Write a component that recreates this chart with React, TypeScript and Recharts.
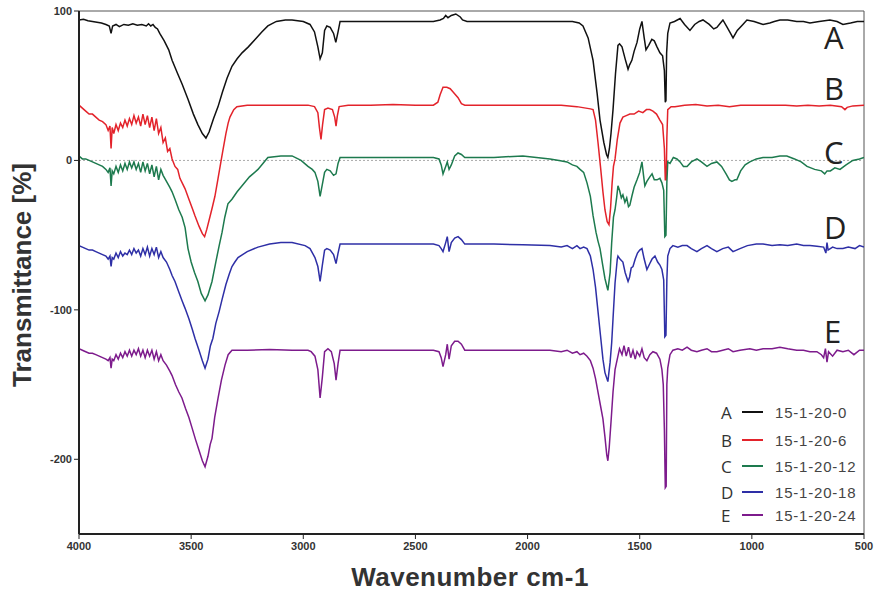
import { LineChart, Line, XAxis, YAxis, ReferenceLine } from 'recharts';

// [wavenumber cm-1, transmittance %] (offset stacked)
const seriesA: [number, number][] = [
  [4000, 94], [3980, 94.5], [3960, 93.5], [3940, 93], [3920, 92.5], [3900, 92], [3880, 91], [3865, 90], [3857, 85], [3850, 90],
  [3835, 91], [3820, 89.5], [3800, 91], [3780, 90.5], [3760, 91.5], [3740, 90.5], [3720, 91], [3700, 90], [3690, 91.5], [3680, 90],
  [3670, 91], [3660, 89], [3650, 88], [3640, 85], [3620, 80], [3600, 74], [3585, 67], [3560, 58], [3540, 51], [3514, 41],
  [3490, 31], [3470, 24], [3450, 18], [3434, 15], [3420, 19], [3400, 28], [3380, 36], [3360, 46], [3340, 55], [3318, 63],
  [3295, 68], [3273, 72], [3245, 76], [3215, 81], [3185, 86], [3158, 90], [3120, 93], [3080, 94], [3050, 94], [3000, 93],
  [2970, 91], [2950, 86], [2935, 76], [2925, 68], [2915, 72], [2905, 87], [2895, 90], [2880, 89], [2865, 85], [2855, 79],
  [2845, 86], [2836, 93], [2800, 93], [2600, 93], [2420, 93], [2390, 94], [2375, 95], [2365, 97], [2355, 95.5], [2340, 97],
  [2320, 98], [2300, 96], [2290, 94], [2270, 93], [2100, 93], [1900, 93], [1800, 93], [1770, 92], [1753, 90], [1730, 82],
  [1708, 67], [1690, 45], [1677, 27], [1660, 12], [1648, 4], [1642, 2], [1635, 8], [1628, 18], [1619, 34], [1608, 58],
  [1597, 77], [1590, 78], [1579, 76], [1565, 68], [1552, 61], [1545, 64], [1535, 67], [1525, 73], [1512, 79], [1500, 88],
  [1490, 93], [1480, 82], [1472, 74], [1460, 77], [1446, 81], [1435, 80], [1423, 76], [1410, 72], [1398, 70], [1390, 60],
  [1386, 39], [1383, 40], [1380, 72], [1375, 85], [1365, 92], [1345, 93], [1320, 95], [1300, 91], [1276, 87], [1255, 91],
  [1235, 93], [1218, 94], [1190, 91], [1170, 88], [1156, 89], [1140, 92], [1129, 94], [1110, 89], [1095, 85], [1084, 82],
  [1065, 87], [1040, 91], [1022, 94], [990, 93], [970, 92], [950, 91], [920, 92], [900, 93], [875, 94], [840, 94],
  [800, 93], [770, 93], [741, 92], [700, 93], [652, 94], [620, 93], [594, 91], [560, 92], [530, 93], [500, 93],
];

const seriesB: [number, number][] = [
  [4000, 37], [3985, 35], [3970, 33], [3955, 31], [3940, 31], [3925, 29], [3910, 27], [3895, 26], [3880, 24], [3870, 20],
  [3862, 23], [3857, 8], [3852, 22], [3845, 18], [3835, 24], [3825, 20], [3815, 25], [3805, 22], [3795, 27], [3785, 23],
  [3775, 28], [3765, 24], [3755, 30], [3745, 25], [3735, 29], [3725, 23], [3715, 31], [3705, 24], [3695, 30], [3685, 22],
  [3675, 29], [3665, 20], [3655, 28], [3645, 18], [3635, 22], [3625, 12], [3615, 15], [3605, 6], [3595, 8], [3585, 1],
  [3572, -4], [3560, -6], [3550, -12], [3540, -15], [3527, -19], [3510, -26], [3495, -32], [3483, -37], [3465, -44], [3450, -49],
  [3440, -51], [3430, -46], [3415, -37], [3405, -31], [3394, -24], [3380, -12], [3365, 1], [3358, 7], [3345, 18], [3335, 25],
  [3327, 29], [3310, 34], [3296, 36], [3250, 37], [3150, 37], [3050, 37], [2979, 37], [2950, 36], [2935, 32], [2928, 22],
  [2921, 14], [2914, 24], [2905, 34], [2890, 35], [2870, 34], [2860, 29], [2854, 23], [2848, 30], [2840, 36], [2800, 37],
  [2700, 37], [2600, 37.5], [2500, 37], [2420, 37], [2400, 39], [2390, 44], [2377, 49], [2360, 49], [2345, 48], [2333, 46],
  [2310, 42], [2295, 38], [2280, 37], [2200, 37], [2000, 37], [1850, 37], [1780, 36], [1740, 35], [1720, 34.5], [1708, 34],
  [1697, 27], [1686, 12], [1675, -4], [1664, -21], [1655, -33], [1645, -41], [1637, -43], [1630, -32], [1623, -15], [1617, -4],
  [1610, 1], [1600, 14], [1588, 25], [1575, 29], [1560, 30], [1544, 31], [1525, 31], [1505, 33], [1486, 32], [1470, 34],
  [1455, 34], [1441, 33], [1425, 31], [1410, 27], [1398, 24], [1390, 8], [1386, -13], [1382, -13], [1379, 15], [1375, 34],
  [1360, 36], [1343, 36], [1300, 37], [1250, 37.5], [1200, 36.5], [1150, 37], [1100, 36], [1050, 37], [1000, 37], [950, 37],
  [900, 37], [850, 37], [800, 36.5], [750, 37], [700, 36.5], [650, 37], [600, 36], [585, 34], [575, 35.5], [550, 36.5],
  [500, 37],
];

const seriesC: [number, number][] = [
  [4000, 3], [3985, 1], [3970, 1], [3955, 0], [3940, -1], [3925, -2], [3910, -3], [3895, -4], [3880, -6], [3870, -8],
  [3862, -5], [3857, -17], [3852, -7], [3845, -9], [3835, -4], [3825, -8], [3815, -3], [3805, -7], [3795, -2], [3785, -6],
  [3775, -1], [3765, -5], [3755, -1], [3745, -6], [3735, -2], [3725, -8], [3715, -1], [3705, -7], [3695, -2], [3685, -9],
  [3675, -3], [3665, -11], [3655, -4], [3645, -13], [3635, -6], [3625, -10], [3610, -14], [3595, -18], [3585, -21], [3572, -26],
  [3555, -33], [3540, -38], [3527, -45], [3514, -59], [3500, -68], [3485, -75], [3470, -81], [3455, -89], [3438, -94], [3425, -90],
  [3407, -81], [3390, -68], [3375, -57], [3362, -48], [3350, -38], [3336, -29], [3318, -26], [3295, -21], [3273, -17], [3240, -11],
  [3202, -6], [3180, -2], [3158, 2], [3100, 3], [3050, 3], [3010, 0], [2979, -4], [2960, -6], [2948, -8], [2935, -14],
  [2925, -24], [2915, -16], [2905, -8], [2895, -6], [2880, -7], [2865, -10], [2854, -9], [2845, -2], [2836, 2], [2800, 2],
  [2700, 2], [2600, 2], [2500, 2], [2420, 2], [2395, 1], [2385, -3], [2377, -9], [2365, -4], [2358, -1], [2350, -6],
  [2340, -3], [2325, 3], [2310, 5], [2295, 4], [2280, 2], [2257, 2], [2150, 2], [2021, 3], [1900, 1], [1860, 0],
  [1824, -1], [1800, -3], [1780, -4], [1766, -6], [1750, -8], [1735, -15], [1720, -24], [1708, -37], [1695, -48], [1686, -54],
  [1677, -59], [1665, -70], [1655, -79], [1642, -87], [1632, -75], [1625, -55], [1617, -38], [1610, -33], [1603, -25], [1597, -17],
  [1590, -20], [1582, -25], [1575, -23], [1566, -28], [1558, -25], [1550, -31], [1544, -30], [1535, -24], [1525, -18], [1512, -13],
  [1500, -8], [1490, -1], [1483, -10], [1477, -17], [1468, -14], [1455, -11], [1445, -9], [1435, -13], [1423, -13], [1410, -12],
  [1401, -15], [1393, -20], [1388, -51], [1383, -50], [1379, -15], [1375, -1], [1365, -2], [1350, 2], [1334, 1], [1320, -1],
  [1305, -4], [1289, -4], [1270, -1], [1245, 1], [1225, -1], [1200, -4], [1180, -2], [1156, -1], [1135, -4], [1115, -9],
  [1100, -13], [1089, -14], [1075, -13], [1067, -13], [1050, -7], [1030, -3], [1009, -1], [980, 1], [950, 2], [910, 2],
  [875, 3], [844, 3], [810, 1], [780, -1], [754, -4], [720, -6], [690, -7], [675, -9], [665, -7], [650, -7],
  [630, -5], [607, -6], [580, -3], [550, 0], [520, 1], [500, 2],
];

const seriesD: [number, number][] = [
  [4000, -57], [3985, -58], [3970, -59], [3955, -60], [3940, -60], [3925, -61], [3910, -62], [3895, -63], [3880, -64], [3870, -66],
  [3862, -64], [3857, -71], [3852, -65], [3845, -66], [3835, -62], [3825, -65], [3815, -61], [3805, -64], [3795, -62], [3785, -63],
  [3775, -60], [3765, -63], [3755, -59], [3745, -62], [3735, -60], [3725, -64], [3715, -59], [3705, -63], [3695, -58], [3685, -64],
  [3675, -59], [3665, -63], [3655, -58], [3645, -65], [3635, -61], [3625, -65], [3610, -68], [3595, -73], [3585, -77], [3572, -81],
  [3555, -88], [3540, -94], [3527, -99], [3510, -106], [3495, -113], [3483, -119], [3465, -127], [3450, -134], [3438, -139], [3425, -133],
  [3414, -124], [3403, -119], [3390, -109], [3375, -101], [3362, -93], [3345, -83], [3330, -76], [3318, -71], [3305, -68], [3291, -65],
  [3250, -61], [3202, -58], [3150, -56], [3100, -55], [3050, -55], [2992, -57], [2970, -59], [2948, -65], [2935, -71], [2925, -81],
  [2915, -70], [2905, -60], [2895, -59], [2880, -60], [2865, -63], [2854, -69], [2845, -62], [2836, -56], [2800, -56], [2700, -56],
  [2600, -56], [2500, -56], [2420, -56], [2395, -57], [2385, -59], [2377, -61], [2365, -55], [2358, -51], [2350, -61], [2340, -55],
  [2325, -52], [2310, -51], [2295, -53], [2280, -56], [2257, -56], [2150, -56], [2021, -56.5], [1900, -57], [1850, -58], [1824, -57],
  [1800, -59], [1780, -57], [1766, -59], [1750, -58], [1735, -59], [1720, -64], [1708, -73], [1697, -85], [1686, -101], [1675, -117],
  [1664, -133], [1655, -142], [1642, -148], [1632, -135], [1625, -122], [1619, -106], [1610, -82], [1600, -66], [1597, -64], [1588, -66],
  [1575, -68], [1565, -75], [1552, -81], [1545, -78], [1538, -72], [1530, -71], [1520, -66], [1510, -62], [1500, -60], [1490, -59],
  [1480, -66], [1468, -73], [1455, -69], [1445, -66], [1432, -64], [1420, -68], [1410, -70], [1401, -73], [1393, -80], [1388, -118],
  [1383, -117], [1379, -80], [1375, -64], [1365, -59], [1352, -57], [1330, -58], [1310, -57], [1289, -57], [1270, -59], [1245, -61],
  [1225, -59], [1200, -57], [1180, -59], [1156, -61], [1130, -59], [1105, -58], [1084, -61], [1053, -59], [1020, -57], [980, -56],
  [950, -56], [910, -57], [875, -56.5], [840, -57], [800, -56], [770, -57], [741, -57], [710, -57.5], [680, -58], [670, -62],
  [665, -55], [660, -60], [640, -58], [620, -59], [594, -59], [570, -58], [540, -59], [520, -57], [500, -58],
];

const seriesE: [number, number][] = [
  [4000, -126], [3985, -127], [3970, -128], [3955, -129], [3940, -129], [3925, -130], [3910, -131], [3895, -132], [3880, -133], [3870, -134],
  [3862, -132], [3857, -139], [3852, -133], [3845, -134], [3835, -130], [3825, -133], [3815, -129], [3805, -132], [3795, -128], [3785, -131],
  [3775, -127], [3765, -131], [3755, -127], [3745, -130], [3735, -126], [3725, -131], [3715, -127], [3705, -132], [3695, -127], [3685, -131],
  [3675, -127], [3665, -133], [3655, -128], [3645, -134], [3635, -130], [3625, -134], [3610, -137], [3595, -141], [3585, -144], [3570, -150],
  [3555, -155], [3541, -159], [3525, -166], [3510, -172], [3496, -179], [3480, -187], [3465, -194], [3450, -201], [3438, -205], [3425, -198],
  [3415, -190], [3407, -186], [3395, -172], [3380, -159], [3365, -147], [3349, -137], [3335, -130], [3318, -127], [3250, -127], [3150, -126.5],
  [3050, -127], [2979, -127], [2965, -128], [2948, -131], [2935, -140], [2925, -159], [2915, -145], [2905, -128], [2890, -126], [2875, -128],
  [2862, -136], [2854, -147], [2845, -136], [2836, -127], [2800, -127], [2700, -127], [2600, -127], [2500, -127], [2420, -127], [2395, -128],
  [2385, -132], [2377, -138], [2365, -130], [2358, -123], [2350, -133], [2340, -124], [2325, -121], [2310, -121], [2295, -123], [2280, -127],
  [2257, -127], [2150, -127], [2021, -127], [1900, -127], [1850, -128], [1824, -127], [1800, -129], [1780, -128], [1766, -130], [1750, -129],
  [1735, -131], [1720, -134], [1708, -139], [1697, -146], [1686, -155], [1675, -164], [1664, -173], [1655, -185], [1647, -197], [1642, -201],
  [1636, -192], [1628, -175], [1619, -155], [1610, -140], [1600, -133], [1590, -126], [1579, -130], [1570, -124], [1560, -131], [1550, -125],
  [1540, -132], [1530, -127], [1520, -133], [1512, -128], [1500, -131], [1490, -126], [1480, -132], [1468, -134], [1455, -130], [1441, -128],
  [1425, -129], [1410, -133], [1401, -140], [1395, -150], [1390, -180], [1386, -219], [1382, -218], [1379, -150], [1375, -139], [1365, -130],
  [1352, -127], [1330, -126], [1310, -127], [1289, -125], [1270, -127], [1245, -128], [1225, -127], [1200, -126], [1180, -128], [1156, -128],
  [1130, -127], [1105, -126], [1084, -128], [1053, -127], [1009, -126], [980, -127], [950, -126], [910, -126], [875, -125], [840, -126],
  [800, -127], [770, -127], [741, -128], [710, -128], [690, -130], [680, -132], [672, -126], [665, -135], [658, -128], [640, -131],
  [620, -127], [594, -128], [570, -127], [545, -130], [520, -127], [500, -127],
];

const xTicks = [4000, 3500, 3000, 2500, 2000, 1500, 1000, 500];
const yTicks = [100, 0, -100, -200];

const series = [
  { key: 'A', name: '15-1-20-0', color: '#111111', pts: seriesA, labelTop: 22 },
  { key: 'B', name: '15-1-20-6', color: '#e3232b', pts: seriesB, labelTop: 73 },
  { key: 'C', name: '15-1-20-12', color: '#1d7a4e', pts: seriesC, labelTop: 137 },
  { key: 'D', name: '15-1-20-18', color: '#2e2fa6', pts: seriesD, labelTop: 212 },
  { key: 'E', name: '15-1-20-24', color: '#7d1b8c', pts: seriesE, labelTop: 316 },
];

const legendRows = [412, 440, 466, 492, 515];

const tickStyle = { fontSize: 11, fill: '#333', fontFamily: 'Liberation Sans, Arial', fontWeight: 'bold' as const };

const App = () => {
  return (
    <div style={{ position: 'absolute', left: 0, top: 0, width: 880, height: 595, background: '#fff', fontFamily: 'Liberation Sans, Arial' }}>
      <LineChart width={880} height={595} margin={{ top: 11, right: 16, left: 0, bottom: 0 }}>
        <XAxis
          type="number"
          dataKey="w"
          domain={[500, 4000]}
          reversed
          ticks={xTicks}
          height={61}
          tick={tickStyle}
          tickSize={5}
          tickMargin={3}
          stroke="#222"
          axisLine={{ stroke: '#222', strokeWidth: 2 }}
          allowDataOverflow
        />
        <YAxis
          type="number"
          domain={[-250, 100]}
          ticks={yTicks}
          width={79}
          tick={tickStyle}
          tickSize={5}
          tickMargin={2}
          stroke="#222"
          axisLine={{ stroke: '#222', strokeWidth: 2 }}
          allowDataOverflow
        />
        <ReferenceLine y={100} stroke="#555" strokeWidth={1} />
        <ReferenceLine x={500} stroke="#555" strokeWidth={1} />
        <ReferenceLine y={0} stroke="#aaa" strokeDasharray="2 2" strokeWidth={1} />
        {series.map((s) => (
          <Line
            key={s.key}
            data={s.pts.map(([w, t]) => ({ w, t }))}
            dataKey="t"
            name={s.name}
            type="linear"
            stroke={s.color}
            strokeWidth={1.5}
            dot={false}
            activeDot={false}
            isAnimationActive={false}
          />
        ))}
      </LineChart>

      {/* axis titles */}
      <div style={{ position: 'absolute', left: 0, top: 562, width: 940, textAlign: 'center', fontSize: 26, fontWeight: 'bold', color: '#333', letterSpacing: 0.5 }}>
        Wavenumber cm-1
      </div>
      <div style={{ position: 'absolute', left: 22, top: 275, transform: 'translate(-50%, -50%) rotate(-90deg)', whiteSpace: 'nowrap', fontSize: 26, fontWeight: 'bold', color: '#333' }}>
        Transmittance [%]
      </div>

      {/* curve letters */}
      {series.map((s) => (
        <div key={s.key} style={{ position: 'absolute', left: 824, top: s.labelTop, fontSize: 31, fontFamily: 'Open Sans', color: '#222', lineHeight: 1 }}>
          {s.key}
        </div>
      ))}

      {/* legend */}
      {series.map((s, i) => (
        <div key={s.key} style={{ position: 'absolute', left: 721, top: legendRows[i] - 10, height: 20, display: 'flex', alignItems: 'center' }}>
          <span style={{ width: 18, fontSize: 17, fontFamily: 'Open Sans', color: '#333' }}>{s.key}</span>
          <span style={{ width: 21, height: 2, background: s.color, marginLeft: 3 }} />
          <span style={{ marginLeft: 12, fontSize: 15, color: '#444', letterSpacing: 0.8 }}>{s.name}</span>
        </div>
      ))}
    </div>
  );
};

export default App;
